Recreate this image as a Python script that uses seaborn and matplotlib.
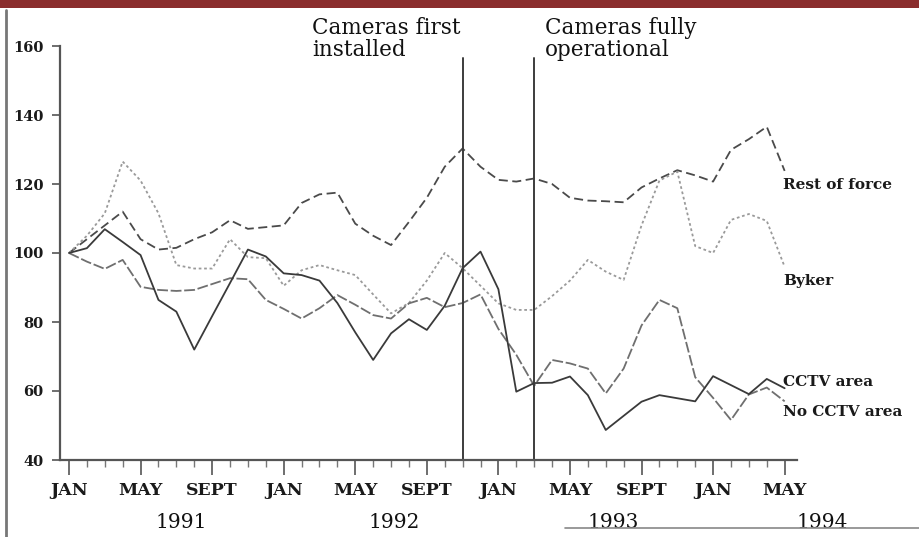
import numpy as np
import pandas as pd
import matplotlib
matplotlib.use("Agg")
import matplotlib.pyplot as plt
import matplotlib.transforms as mtransforms
from matplotlib.patches import Rectangle
from matplotlib.lines import Line2D
import seaborn as sns

# ---- data (index, Jan 1991 = 100), monthly Jan 1991 .. May 1994 ----
months = list(range(41))
rest_of_force = [100, 104, 108, 112, 104, 101, 101.5, 104, 106, 109.5, 107, 107.5,
                 108, 114.5, 117, 117.5, 108.5, 105, 102.3, 109, 116, 125, 130.3, 125,
                 121.2, 120.7, 121.6, 120, 116, 115.2, 115, 114.7, 119, 121.6, 124, 122.5,
                 120.7, 129.9, 133, 136.6, 123.8]
byker = [100, 105, 111.5, 126.5, 121, 111.5, 96.5, 95.5, 95.5, 104, 98.8, 98.5,
         90.5, 95, 96.5, 95, 93.6, 88, 82.5, 85.5, 92, 100, 95.6, 90.5,
         85.4, 83.5, 83.5, 87.5, 92, 98, 94.6, 92.2, 108, 121, 123.6, 102,
         100, 109.6, 111.3, 109.3, 96]
cctv_area = [100, 101.4, 106.9, 103.2, 99.4, 86.4, 83, 72, 81.7, 91.3, 101, 99,
             94.1, 93.6, 92, 85.5, 77, 69, 76.7, 80.8, 77.7, 84.7, 95.6, 100.4,
             89.5, 59.8, 62.3, 62.4, 64.2, 58.8, 48.7, 52.8, 56.9, 58.8, 57.9, 57,
             64.3, 61.7, 59.1, 63.5, 60.8]
no_cctv_area = [100, 97.5, 95.4, 98, 90.2, 89.3, 89, 89.3, 91, 92.7, 92.4, 86.4,
                83.8, 81, 84, 87.8, 85, 82, 81, 85.4, 87, 84.3, 85.5, 88,
                78, 70.5, 61.5, 69, 68, 66.5, 59.3, 66.5, 79, 86.4, 84, 64,
                58, 51.6, 59, 61, 57]
series_names = ["Rest of force", "Byker", "CCTV area", "No CCTV area"]
month_labels = ["JAN", "MAY", "SEPT"]
year_labels = ["1991", "1992", "1993", "1994"]
event_months = [22, 26]
event_labels = ["Cameras first\ninstalled", "Cameras fully\noperational"]

W, H = 919, 537
sns.set_theme(style="white")
plt.rcParams["font.family"] = ["DejaVu Serif"]

fig = plt.figure(figsize=(W / 100, H / 100), dpi=100)
fig.patch.set_facecolor("white")

def fx(px):
    return px / W

def fy(py):
    return 1 - py / H

ax = fig.add_axes([fx(60), fy(460), fx(797) - fx(60), fy(46) - fy(460)])
ax.set_facecolor("white")

df = pd.DataFrame({"month": months, "rest": rest_of_force, "byker": byker,
                   "cctv": cctv_area, "nocctv": no_cctv_area})

sns.lineplot(data=df, x="month", y="rest", ax=ax, color="#4a4a4a", lw=1.3,
             linestyle=(0, (5, 2.5)))
sns.lineplot(data=df, x="month", y="byker", ax=ax, color="#9a9a9a", lw=1.3,
             linestyle=(0, (1.5, 1.5)))
sns.lineplot(data=df, x="month", y="nocctv", ax=ax, color="#6f6f6f", lw=1.3,
             linestyle=(0, (6, 1.5)))
sns.lineplot(data=df, x="month", y="cctv", ax=ax, color="#3a3a3a", lw=1.3)

for m in event_months:
    ax.plot([m, m], [40, 156.5], color="#3c3c3c", lw=1.4)

ax.set_xlim(-0.503, 40.69)
ax.set_ylim(40, 160)
for s in ["top", "right"]:
    ax.spines[s].set_visible(False)
for s in ["left", "bottom"]:
    ax.spines[s].set_color("#555555")
    ax.spines[s].set_linewidth(1.6)

ax.set_yticks([40, 60, 80, 100, 120, 140, 160])
ax.set_yticklabels(["40", "60", "80", "100", "120", "140", "160"],
                   fontsize=10.5, fontweight="bold", color="#1a1a1a")
ax.tick_params(axis="y", direction="out", length=6, width=1.2, color="#555555", pad=6, left=True)

major = list(range(0, 41, 4))
ax.set_xticks(major)
ax.set_xticklabels([month_labels[i % 3] for i in range(len(major))],
                   fontsize=12.5, fontweight="bold", color="#1a1a1a")
ax.set_xticks(months, minor=True)
ax.tick_params(axis="x", which="major", direction="out", length=11, width=1.2,
               color="#555555", pad=5, bottom=True)
ax.tick_params(axis="x", which="minor", direction="out", length=5, width=1.0,
               color="#777777", bottom=True)
ax.set_xlabel("")
ax.set_ylabel("")
ax.grid(False)

trans = mtransforms.blended_transform_factory(ax.transData, fig.transFigure)
for xm, lab in zip([6.3, 18.2, 30.4, 42.1], year_labels):
    ax.text(xm, fy(522), lab, transform=trans, ha="center", va="center",
            fontsize=14.5, color="#111111", clip_on=False)

# series labels
lab_y = [119.7, 91.9, 62.6, 53.9]
for name, yv in zip(series_names, lab_y):
    ax.text(39.9, yv, name, ha="left", va="center", fontsize=11, fontweight="bold",
            color="#1a1a1a", clip_on=False)

# event annotations
fig.text(fx(312), fy(17), event_labels[0], ha="left", va="top", fontsize=15.5,
         color="#111111", linespacing=1.0)
fig.text(fx(545), fy(17), event_labels[1], ha="left", va="top", fontsize=15.5,
         color="#111111", linespacing=1.0)

# decorations of the scanned page
fig.add_artist(Rectangle((0, fy(8)), 1, fy(0) - fy(8), transform=fig.transFigure,
                         color="#8a2d2d", lw=0))
fig.add_artist(Line2D([fx(6), fx(6)], [fy(10), 0], transform=fig.transFigure,
                      color="#777777", lw=2))
fig.add_artist(Line2D([fx(565), 1], [fy(528), fy(528)], transform=fig.transFigure,
                      color="#888888", lw=1.2))

fig.savefig("out.png", dpi=100)
